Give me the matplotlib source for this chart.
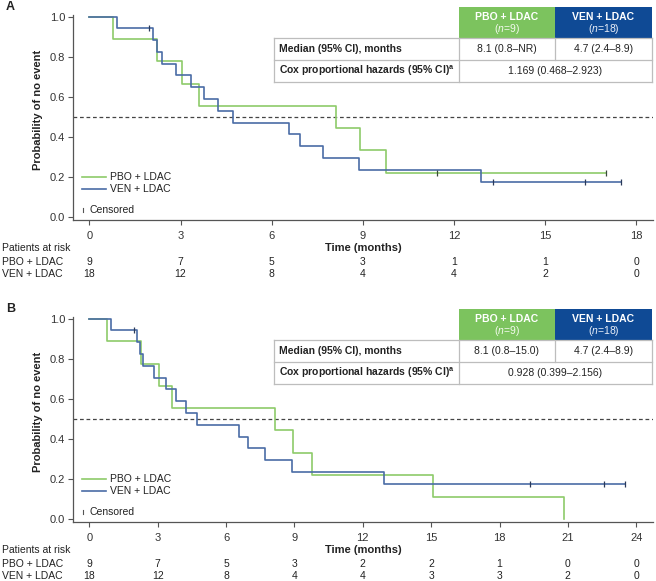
import matplotlib
matplotlib.use("Agg")
import matplotlib.pyplot as plt
from matplotlib.patches import Rectangle
from matplotlib.transforms import blended_transform_factory

plt.rcParams['font.family'] = ['Liberation Sans', 'DejaVu Sans']
plt.rcParams['mathtext.fontset'] = 'custom'
plt.rcParams['mathtext.rm'] = 'Liberation Sans'
plt.rcParams['mathtext.it'] = 'Liberation Sans:italic'
plt.rcParams['mathtext.bf'] = 'Liberation Sans:bold'

# ---------------- Data ----------------
groups = ["PBO + LDAC", "VEN + LDAC"]
group_n = [9, 18]

# Panel A
A_pbo_t = [0, 0.77, 2.24, 3.06, 3.62, 8.11, 8.91, 9.76, 17.0]
A_pbo_s = [1.0, 0.889, 0.778, 0.667, 0.556, 0.444, 0.333, 0.222, 0.222]
A_pbo_cens_t = [11.43, 17.0]
A_pbo_cens_s = [0.222, 0.222]
A_ven_t = [0, 0.92, 2.09, 2.24, 2.39, 2.84, 3.34, 3.77, 4.24, 4.72, 6.58, 6.93, 7.68, 8.87, 12.88, 17.5]
A_ven_s = [1.0, 0.944, 0.885, 0.826, 0.767, 0.708, 0.649, 0.590, 0.531, 0.472, 0.413, 0.354, 0.295, 0.236, 0.177, 0.177]
A_ven_cens_t = [1.97, 13.3, 16.3, 17.5]
A_ven_cens_s = [0.944, 0.177, 0.177, 0.177]
A_ticks = [0, 3, 6, 9, 12, 15, 18]
A_risk_pbo = [9, 7, 5, 3, 1, 1, 0]
A_risk_ven = [18, 12, 8, 4, 4, 2, 0]
A_median = ["8.1 (0.8\u2013NR)", "4.7 (2.4\u20138.9)"]
A_hr = "1.169 (0.468\u20132.923)"

# Panel B
B_pbo_t = [0, 0.78, 2.25, 3.05, 3.64, 8.14, 8.94, 9.76, 15.06, 20.85]
B_pbo_s = [1.0, 0.889, 0.778, 0.667, 0.556, 0.444, 0.333, 0.222, 0.111, 0.0]
B_pbo_cens_t = []
B_pbo_cens_s = []
B_ven_t = [0, 0.93, 2.07, 2.22, 2.36, 2.83, 3.35, 3.79, 4.22, 4.74, 6.57, 6.95, 7.71, 8.88, 12.91, 23.53]
B_ven_s = [1.0, 0.944, 0.885, 0.826, 0.767, 0.708, 0.649, 0.590, 0.531, 0.472, 0.413, 0.354, 0.295, 0.236, 0.177, 0.177]
B_ven_cens_t = [1.97, 19.35, 22.57, 23.53]
B_ven_cens_s = [0.944, 0.177, 0.177, 0.177]
B_ticks = [0, 3, 6, 9, 12, 15, 18, 21, 24]
B_risk_pbo = [9, 7, 5, 3, 2, 2, 1, 0, 0]
B_risk_ven = [18, 12, 8, 4, 4, 3, 3, 2, 0]
B_median = ["8.1 (0.8\u201315.0)", "4.7 (2.4\u20138.9)"]
B_hr = "0.928 (0.399\u20132.156)"

y_ticks = [0.0, 0.2, 0.4, 0.6, 0.8, 1.0]

# ---------------- Style ----------------
W, H = 656, 581
C_PBO = "#8DCB6A"
C_VEN = "#4A6CA6"
C_HDR_PBO = "#7CC35E"
C_HDR_VEN = "#0F4A95"
TXT = "#222222"
GRID = "#BDBDBD"
FS = 8
RFS = 7.5

fig = plt.figure(figsize=(W / 100, H / 100), dpi=100)


def fx(x):
    return x / W


def fy(y):
    return 1 - y / H


def rect_px(x0, y0, x1, y1, **kw):
    r = Rectangle((fx(x0), fy(y1)), fx(x1) - fx(x0), fy(y0) - fy(y1),
                  transform=fig.transFigure, **kw)
    fig.add_artist(r)


def line_px(x0, y0, x1, y1, **kw):
    fig.add_artist(plt.Line2D([fx(x0), fx(x1)], [fy(y0), fy(y1)],
                              transform=fig.transFigure, **kw))


def panel(letter, top_px, ticks, pbo_t, pbo_s, pbo_ct, pbo_cs,
          ven_t, ven_s, ven_ct, ven_cs, risk_pbo, risk_ven, median, hr, tbl_top):
    left, right = 72.7, 653
    bottom_px = top_px + 205
    ax = fig.add_axes([fx(left), fy(bottom_px), fx(right) - fx(left), fy(top_px) - fy(bottom_px)])
    ax.set_ylim(-0.015, 1.01)
    x0pix = 89.4
    ppm = (636.2 - x0pix) / ticks[-1]
    ax.set_xlim(-(x0pix - left) / ppm, (right - x0pix) / ppm)
    for s in ["top", "right"]:
        ax.spines[s].set_visible(False)
    for s in ["left", "bottom"]:
        ax.spines[s].set_color("#555555")
        ax.spines[s].set_linewidth(0.9)
    ax.set_xticks(ticks)
    ax.set_xticklabels([])
    ax.set_yticks(y_ticks)
    ax.set_yticklabels([f"{v:.1f}" for v in y_ticks], fontsize=FS, color="#333333")
    ax.tick_params(axis="both", direction="out", length=3.5, width=0.8, color="#555555", pad=2)

    ax.axhline(0.5, color="#444444", lw=0.9, ls=(0, (3, 2.2)))
    ax.step(pbo_t, pbo_s, where="post", color=C_PBO, lw=1.2)
    ax.step(ven_t, ven_s, where="post", color=C_VEN, lw=1.2)
    ax.plot(pbo_ct, pbo_cs, ls="none", marker="|", ms=4, mew=0.9, color="#3a4a3a")
    ax.plot(ven_ct, ven_cs, ls="none", marker="|", ms=4, mew=0.9, color="#2a3a5a")

    # legend
    for yy, col, lab in [(top_px + 162, C_PBO, groups[0]), (top_px + 174, C_VEN, groups[1])]:
        line_px(82, yy, 106, yy, color=col, lw=1.2)
        fig.text(fx(110), fy(yy), lab, fontsize=7.5, color=TXT, va="center", ha="left")
    yy = top_px + 195
    line_px(83.3, yy - 2, 83.3, yy + 2, color="#555555", lw=0.8)
    fig.text(fx(90), fy(yy), "Censored", fontsize=7.5, color=TXT, va="center", ha="left")

    # y label
    fig.text(fx(38), fy(top_px + 95), "Probability of no event", rotation=90,
             fontsize=FS, fontweight="bold", color=TXT, ha="center", va="center")
    # panel letter
    fig.text(fx(6), fy(top_px - 8), letter, fontsize=9, fontweight="bold", color=TXT,
             ha="left", va="center")

    # x tick labels + risk table
    bt = blended_transform_factory(ax.transData, fig.transFigure)
    for t in ticks:
        fig.text(t, fy(bottom_px + 16), str(t), transform=bt, fontsize=FS,
                 color="#333333", ha="center", va="center")
    fig.text(fx(2), fy(bottom_px + 28), "Patients at risk", fontsize=RFS, color=TXT, va="center")
    fig.text(fx(363), fy(bottom_px + 28), "Time (months)", fontsize=FS, fontweight="bold",
             color=TXT, ha="center", va="center")
    for yy, lab, vals in [(bottom_px + 42, groups[0], risk_pbo), (bottom_px + 54, groups[1], risk_ven)]:
        fig.text(fx(2), fy(yy), lab, fontsize=RFS, color=TXT, va="center")
        for t, v in zip(ticks, vals):
            fig.text(t, fy(yy), str(v), transform=bt, fontsize=RFS, color=TXT,
                     ha="center", va="center")

    # summary table
    xL, xM, xR, xE = 274, 459, 555, 652
    h0, h1, h2, h3 = tbl_top, tbl_top + 30.5, tbl_top + 53, tbl_top + 75
    rect_px(xM, h0, xR, h1, facecolor=C_HDR_PBO, edgecolor="none")
    rect_px(xR, h0, xE, h1, facecolor=C_HDR_VEN, edgecolor="none")
    rect_px(xL, h1, xE, h3, facecolor="white", edgecolor="none")
    lw = 0.9
    line_px(xL, h1, xE, h1, color=GRID, lw=lw)
    line_px(xL, h2, xE, h2, color=GRID, lw=lw)
    line_px(xL, h3, xE, h3, color=GRID, lw=lw)
    line_px(xL, h1, xL, h3, color=GRID, lw=lw)
    line_px(xM, h1, xM, h3, color=GRID, lw=lw)
    line_px(xR, h1, xR, h2, color=GRID, lw=lw)
    line_px(xE, h1, xE, h3, color=GRID, lw=lw)
    for (a, b), lab, n, tc in [((xM, xR), groups[0], group_n[0], "#F3FAEE"),
                               ((xR, xE), groups[1], group_n[1], "#E8EEF8")]:
        cx = (a + b) / 2
        fig.text(fx(cx), fy(h0 + 9.5), lab, fontsize=7.5, fontweight="bold", color="white",
                 ha="center", va="center")
        fig.text(fx(cx), fy(h0 + 22), r"($\mathit{n}$=" + str(n) + ")", fontsize=7.5,
                 color=tc, ha="center", va="center")
    fig.text(fx(xL + 5), fy((h1 + h2) / 2), "Median (95% CI), months", fontsize=7.5,
             fontweight="bold", color=TXT, ha="left", va="center")
    fig.text(fx(xL + 5), fy((h2 + h3) / 2),
             r"Cox proportional hazards (95% CI)$^{\mathregular{a}}$", fontsize=7.5,
             fontweight="bold", color=TXT, ha="left", va="center")
    fig.text(fx((xM + xR) / 2), fy((h1 + h2) / 2), median[0], fontsize=7.5, color=TXT,
             ha="center", va="center")
    fig.text(fx((xR + xE) / 2), fy((h1 + h2) / 2), median[1], fontsize=7.5, color=TXT,
             ha="center", va="center")
    fig.text(fx((xM + xE) / 2), fy((h2 + h3) / 2), hr, fontsize=7.5, color=TXT,
             ha="center", va="center")
    return ax


panel("A", 15, A_ticks, A_pbo_t, A_pbo_s, A_pbo_cens_t, A_pbo_cens_s,
      A_ven_t, A_ven_s, A_ven_cens_t, A_ven_cens_s, A_risk_pbo, A_risk_ven,
      A_median, A_hr, 7.3)
panel("B", 317.3, B_ticks, B_pbo_t, B_pbo_s, B_pbo_cens_t, B_pbo_cens_s,
      B_ven_t, B_ven_s, B_ven_cens_t, B_ven_cens_s, B_risk_pbo, B_risk_ven,
      B_median, B_hr, 309)

fig.savefig("out.png", dpi=100, facecolor="white")
